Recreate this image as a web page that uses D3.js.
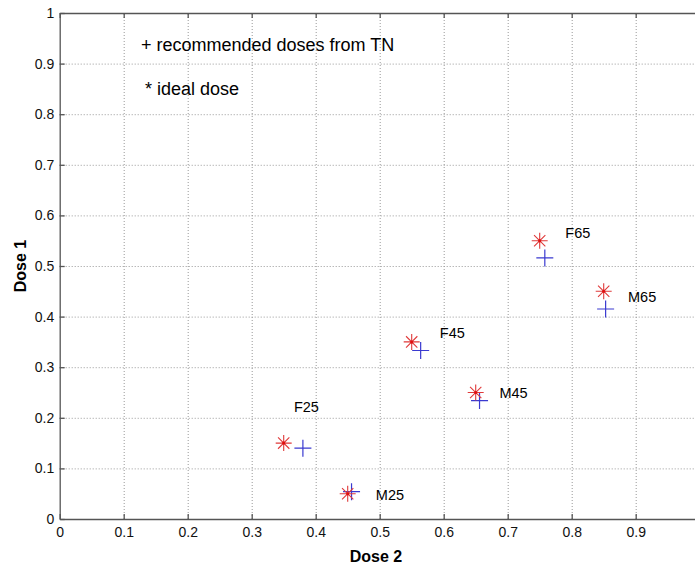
<!DOCTYPE html>
<html lang="en">
<head>
    <meta charset="UTF-8"/>
    <title>Dose 1 vs Dose 2</title>
    <script src="https://d3js.org/d3.v7.min.js"></script>
    <style>
        html, body {
            margin: 0;
            padding: 0;
            background: white;
            overflow: hidden;
        }
        svg text {
            font-family: "Liberation Sans", Arial, Helvetica, sans-serif;
        }
        .grid line {
            stroke: #999;
            stroke-dasharray: 1 2;
            stroke-width: 1;
        }
    </style>
</head>
<body>
    <div id="chart"></div>
    <script>
        // groups and their doses (x = Dose 2, y = Dose 1)
        var groups = ["F25", "M25", "F45", "M45", "F65", "M65"];
        var idealX = [0.35, 0.45, 0.55, 0.65, 0.75, 0.85];
        var idealY = [0.15, 0.05, 0.35, 0.25, 0.55, 0.45];
        var recX = [0.380, 0.456, 0.564, 0.656, 0.758, 0.853];
        var recY = [0.140, 0.054, 0.333, 0.234, 0.516, 0.415];
        // where the group names sit, in data units
        var labelX = [0.366, 0.494, 0.594, 0.687, 0.79, 0.888];
        var labelY = [0.221, 0.048, 0.368, 0.25, 0.566, 0.438];

        var xTicks = [0, 0.1, 0.2, 0.3, 0.4, 0.5, 0.6, 0.7, 0.8, 0.9];
        var yTicks = [0, 0.1, 0.2, 0.3, 0.4, 0.5, 0.6, 0.7, 0.8, 0.9, 1];

        var w = 700, h = 567;
        var mLeft = 59.7, mTop = 13, mRight = 699.7, mBottom = 519;

        var x = d3.scaleLinear().domain([0, 1]).range([mLeft, mRight]);
        var y = d3.scaleLinear().domain([0, 1]).range([mBottom, mTop]);

        var svg = d3.select("#chart")
                    .append("svg")
                    .attr("width", w)
                    .attr("height", h);

        // dotted grid
        svg.append("g")
            .attr("class", "grid")
            .attr("transform", "translate(0," + mBottom + ")")
            .call(d3.axisBottom(x).tickValues(xTicks.slice(1)).tickSize(-(mBottom - mTop)).tickFormat(""))
            .call(function(g) { g.select(".domain").remove(); });
        svg.append("g")
            .attr("class", "grid")
            .attr("transform", "translate(" + mLeft + ",0)")
            .call(d3.axisLeft(y).tickValues(yTicks.slice(1, -1)).tickSize(-(mRight - mLeft)).tickFormat(""))
            .call(function(g) { g.select(".domain").remove(); });

        // axes with inward ticks
        var xAxis = svg.append("g")
            .attr("transform", "translate(0," + mBottom + ")")
            .call(d3.axisBottom(x).tickValues(xTicks).tickSizeInner(-5).tickSizeOuter(0).tickPadding(8).tickFormat(d3.format("")));
        var xTop = svg.append("g")
            .attr("transform", "translate(0," + mTop + ")")
            .call(d3.axisTop(x).tickValues(xTicks).tickSizeInner(-5).tickSizeOuter(0).tickFormat(""));
        var yAxis = svg.append("g")
            .attr("transform", "translate(" + mLeft + ",0)")
            .call(d3.axisLeft(y).tickValues(yTicks).tickSizeInner(-5).tickSizeOuter(0).tickPadding(5.5).tickFormat(d3.format("")));

        [xAxis, xTop, yAxis].forEach(function(a) {
            a.selectAll(".domain").attr("stroke", "#555").attr("stroke-width", 1.3);
            a.selectAll(".tick line").attr("stroke", "#555").attr("stroke-width", 1.3);
            a.selectAll("text").attr("font-size", 14).attr("fill", "#111");
        });

        // axis titles
        svg.append("text")
            .attr("x", 376)
            .attr("y", 562)
            .attr("text-anchor", "middle")
            .attr("font-size", 16)
            .attr("font-weight", "bold")
            .text("Dose 2");
        svg.append("text")
            .attr("transform", "translate(26," + ((mTop + mBottom) / 2) + ") rotate(-90)")
            .attr("text-anchor", "middle")
            .attr("font-size", 16)
            .attr("font-weight", "bold")
            .text("Dose 1");

        // legend notes
        svg.append("text")
            .attr("x", 141).attr("y", 51)
            .attr("font-size", 18)
            .text("+ recommended doses from TN");
        svg.append("text")
            .attr("x", 145).attr("y", 95)
            .attr("font-size", 18)
            .text("* ideal dose");

        var idx = d3.range(groups.length);

        // recommended doses: blue plus
        var s = 8.5;
        var plus = svg.selectAll(".rec")
            .data(idx)
            .enter()
            .append("g")
            .attr("class", "rec")
            .attr("transform", function(i) { return "translate(" + x(recX[i]) + "," + y(recY[i]) + ")"; });
        plus.append("path")
            .attr("d", "M" + (-s) + ",0H" + s + "M0," + (-s) + "V" + s)
            .attr("stroke", "#3a3ad0")
            .attr("stroke-width", 1.2)
            .attr("fill", "none");

        // ideal doses: red asterisk
        var r = 8, d = r * Math.SQRT1_2;
        var star = svg.selectAll(".ideal")
            .data(idx)
            .enter()
            .append("g")
            .attr("class", "ideal")
            .attr("transform", function(i) { return "translate(" + x(idealX[i]) + "," + y(idealY[i]) + ")"; });
        star.append("path")
            .attr("d", "M" + (-r) + ",0H" + r + "M0," + (-r) + "V" + r +
                       "M" + (-d) + "," + (-d) + "L" + d + "," + d +
                       "M" + (-d) + "," + d + "L" + d + "," + (-d))
            .attr("stroke", "#e03a3a")
            .attr("stroke-width", 1.1)
            .attr("fill", "none");
        star.append("circle")
            .attr("r", 1.5)
            .attr("fill", "#e01010");

        // group names
        svg.selectAll(".lbl")
            .data(idx)
            .enter()
            .append("text")
            .attr("class", "lbl")
            .attr("x", function(i) { return x(labelX[i]); })
            .attr("y", function(i) { return y(labelY[i]); })
            .attr("dy", "0.35em")
            .attr("font-size", 14.5)
            .text(function(i) { return groups[i]; });
    </script>
</body>
</html>
